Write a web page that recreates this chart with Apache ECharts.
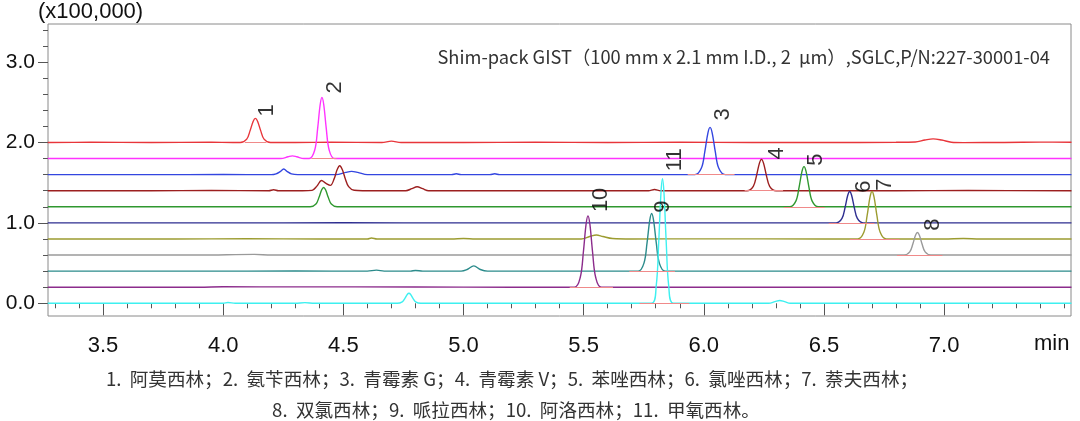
<!DOCTYPE html>
<html>
<head>
<meta charset="utf-8">
<title>Penicillins chromatogram</title>
<script src="https://cdn.jsdelivr.net/npm/echarts@6/dist/echarts.min.js"></script>
<style>
  html, body { margin: 0; padding: 0; background: #fff; }
  #chart { width: 1080px; height: 421px; }
</style>
</head>
<body>
<div id="chart"></div>
<script>
// traces: [time (min), signal (x100,000, offset included)]
const amoxicillin = [[3.27,2.0],[3.45,2.002],[3.7,2.0],[3.95,2.003],[4.04,2.0],[4.071,2.0],[4.098,2.042],[4.112,2.147],[4.125,2.264],[4.134,2.30],[4.143,2.264],[4.156,2.147],[4.170,2.042],[4.197,2.0],[4.3,2.0],[4.45,2.002],[4.66,2.0],[4.70,2.016],[4.74,2.0],[5.0,2.0],[5.3,2.003],[5.6,2.0],[5.9,2.002],[6.2,2.0],[6.5,2.0],[6.8,2.002],[6.88,2.006],[6.92,2.03],[6.954,2.045],[6.99,2.03],[7.03,2.003],[7.08,1.998],[7.25,2.0],[7.4,2.004],[7.53,2.002]];
const ampicillin = [[3.27,1.8],[3.6,1.8],[3.9,1.802],[4.1,1.8],[4.24,1.8],[4.27,1.822],[4.288,1.833],[4.306,1.822],[4.336,1.8],[4.358,1.8],[4.381,1.906],[4.393,2.172],[4.4035,2.469],[4.411,2.56],[4.4185,2.469],[4.429,2.172],[4.441,1.906],[4.4635,1.8],[4.6,1.8],[5.0,1.8],[5.5,1.801],[6.0,1.8],[6.5,1.8],[7.0,1.8],[7.53,1.8]];
const penicillinG = [[3.27,1.6],[3.7,1.6],[4.0,1.601],[4.2,1.6],[4.22,1.61],[4.237,1.638],[4.252,1.67],[4.267,1.638],[4.284,1.61],[4.31,1.6],[4.47,1.6],[4.51,1.628],[4.534,1.64],[4.56,1.628],[4.60,1.6],[4.8,1.6],[4.95,1.6],[4.97,1.61],[4.99,1.6],[5.11,1.6],[5.13,1.61],[5.15,1.6],[5.5,1.6],[5.9,1.6],[5.963,1.6],[5.99,1.682],[6.0044,1.888],[6.017,2.117],[6.026,2.187],[6.035,2.117],[6.0476,1.888],[6.062,1.682],[6.089,1.6],[6.4,1.6],[7.0,1.6],[7.53,1.6]];
const penicillinV = [[3.27,1.4],[3.7,1.4],[3.95,1.402],[4.19,1.4],[4.21,1.412],[4.23,1.4],[4.33,1.4],[4.37,1.404],[4.39,1.457],[4.409,1.527],[4.428,1.49],[4.446,1.466],[4.462,1.55],[4.474,1.66],[4.485,1.71],[4.496,1.66],[4.508,1.55],[4.522,1.45],[4.545,1.405],[4.58,1.4],[4.76,1.4],[4.785,1.425],[4.807,1.45],[4.83,1.425],[4.855,1.4],[5.3,1.4],[5.77,1.4],[5.795,1.415],[5.82,1.4],[6.1,1.4],[6.18,1.4],[6.206,1.455],[6.2196,1.591],[6.2315,1.743],[6.24,1.79],[6.2485,1.743],[6.2604,1.591],[6.274,1.455],[6.30,1.4],[6.8,1.4],[7.1,1.402],[7.53,1.4]];
const oxacillin = [[3.27,1.2],[3.8,1.2],[4.2,1.201],[4.362,1.2],[4.386,1.234],[4.3988,1.318],[4.41,1.411],[4.418,1.44],[4.426,1.411],[4.4372,1.318],[4.45,1.234],[4.474,1.2],[5.0,1.2],[5.6,1.2],[6.3,1.2],[6.3575,1.2],[6.383,1.27],[6.3966,1.445],[6.4085,1.64],[6.417,1.70],[6.4255,1.64],[6.4374,1.445],[6.451,1.27],[6.4765,1.2],[7.0,1.2],[7.53,1.2]];
const cloxacillin = [[3.27,1.0],[4.0,1.0],[4.5,1.001],[5.0,1.0],[5.5,1.0],[6.0,1.0],[6.5,1.0],[6.551,1.0],[6.575,1.055],[6.5878,1.191],[6.599,1.343],[6.607,1.39],[6.615,1.343],[6.6262,1.191],[6.639,1.055],[6.663,1.0],[7.0,1.0],[7.53,1.0]];
const nafcillin = [[3.27,0.8],[3.8,0.8],[4.1,0.803],[4.4,0.8],[4.6,0.8],[4.617,0.812],[4.64,0.8],[4.95,0.8],[5.0,0.806],[5.05,0.8],[5.49,0.8],[5.525,0.83],[5.553,0.85],[5.58,0.83],[5.62,0.805],[5.7,0.8],[6.0,0.801],[6.5,0.8],[6.6405,0.8],[6.666,0.883],[6.6796,1.089],[6.6915,1.319],[6.70,1.39],[6.7085,1.319],[6.7204,1.089],[6.734,0.883],[6.7595,0.8],[7.0,0.8],[7.08,0.805],[7.15,0.8],[7.53,0.8]];
const dicloxacillin = [[3.27,0.6],[3.9,0.6],[4.13,0.608],[4.2,0.6],[5.0,0.6],[5.8,0.6],[6.833,0.6],[6.857,0.639],[6.8698,0.737],[6.881,0.846],[6.889,0.88],[6.897,0.846],[6.9082,0.737],[6.921,0.639],[6.945,0.6],[7.53,0.6]];
const piperacillin = [[3.27,0.4],[3.9,0.4],[4.3,0.401],[4.6,0.4],[4.638,0.412],[4.67,0.4],[4.78,0.4],[4.80,0.408],[4.83,0.4],[4.99,0.4],[5.015,0.42],[5.043,0.465],[5.07,0.42],[5.10,0.4],[5.5,0.4],[5.727,0.4],[5.751,0.5],[5.7638,0.751],[5.775,1.03],[5.783,1.116],[5.791,1.03],[5.8022,0.751],[5.815,0.5],[5.839,0.4],[6.3,0.4],[7.0,0.4],[7.53,0.4]];
const azlocillin = [[3.27,0.2],[3.9,0.2],[4.0,0.205],[4.3,0.204],[4.8,0.203],[5.2,0.2],[5.462,0.2],[5.486,0.324],[5.4988,0.635],[5.51,0.981],[5.518,1.087],[5.526,0.981],[5.5372,0.635],[5.55,0.324],[5.574,0.2],[6.0,0.2],[7.0,0.2],[7.53,0.2]];
const methicillin = [[3.27,0.0],[3.6,0.0],[4.0,0.0],[4.02,0.01],[4.05,0.0],[4.3,0.0],[4.34,0.008],[4.38,0.0],[4.724,0.0],[4.745,0.0175],[4.7562,0.061],[4.766,0.11],[4.773,0.125],[4.78,0.11],[4.7898,0.061],[4.801,0.0175],[4.822,0.0],[5.3,0.0],[5.7825,0.0],[5.802,0.217],[5.8124,0.759],[5.8215,1.362],[5.828,1.548],[5.8345,1.362],[5.8436,0.759],[5.854,0.217],[5.8735,0.0],[6.27,0.0],[6.296,0.02],[6.316,0.035],[6.336,0.02],[6.36,0.0],[7.0,0.0],[7.53,0.0]];

// integration baselines under each numbered peak: [start, end, level]
const intBaselines = [[4.09,4.18,2.0],[4.367,4.471,1.8],[5.933,6.128,1.6],[6.17,6.33,1.4],[6.333,6.503,1.2],[6.52,6.71,1.0],[6.607,6.815,0.8],[6.804,6.993,0.6],[5.69,5.88,0.4],[5.442,5.622,0.2],[5.733,5.94,0.0]];

// peak numbers
const peakNames = ['1','2','3','4','5','6','7','8','9','10','11'];
const peakTimes = [4.134, 4.411, 6.026, 6.24, 6.417, 6.607, 6.70, 6.889, 5.783, 5.518, 5.828];
const peakTops = [2.30, 2.56, 2.187, 1.79, 1.70, 1.39, 1.39, 0.88, 1.116, 1.087, 1.548];

// tick values
const xMajorTicks = [3.5, 4.0, 4.5, 5.0, 5.5, 6.0, 6.5, 7.0];
const xMinorTicks = [3.3,3.4,3.6,3.7,3.8,3.9,4.1,4.2,4.3,4.4,4.6,4.7,4.8,4.9,5.1,5.2,5.3,5.4,5.6,5.7,5.8,5.9,6.1,6.2,6.3,6.4,6.6,6.7,6.8,6.9,7.1,7.2,7.3,7.4,7.5];
const yMajorTicks = [0.0, 1.0, 2.0, 3.0];
const yMinorTicks = [0.2,0.4,0.6,0.8,1.2,1.4,1.6,1.8,2.2,2.4,2.6,2.8,3.2,3.4];

const legendLine1 = '1.  阿莫西林；2.  氨苄西林；3.  青霉素 G；4.  青霉素 V；5.  苯唑西林；6.  氯唑西林；7.  萘夫西林；';
const legendLine2 = '8.  双氯西林；9.  哌拉西林；10.  阿洛西林；11.  甲氧西林。';
const columnText = 'Shim-pack GIST（100 mm x 2.1 mm I.D., 2  µm）,SGLC,P/N:227-30001-04';

// styling
const traces = [amoxicillin, ampicillin, penicillinG, penicillinV, oxacillin, cloxacillin, nafcillin, dicloxacillin, piperacillin, azlocillin, methicillin];
const traceColors = ['#e8353a', '#ff33ff', '#3346e0', '#9c1f1f', '#2f982f', '#2e2e90', '#9c9c30', '#9a9a9a', '#2b8b8b', '#8c2c8c', '#3ef0f0'];
// label centre relative to the apex, screen px [right, down]
const labelOffsets = [[12,-8],[13,-10],[13,-13],[15,-6],[12,-7],[14,-5],[13,-7],[15,-8],[11,-7],[13,-16],[12,-19]];

const X_MIN = 3.271, X_MAX = 7.528;
const Y_MIN = -0.158, Y_MAX = 3.473;
const latin = '"Liberation Sans", Arial, sans-serif';
const cjk = '"Noto Sans CJK SC", sans-serif';

const chart = echarts.init(document.getElementById('chart'));

const lineSeries = traces.map((data, i) => ({
  type: 'line',
  data: data,
  showSymbol: false,
  smooth: 0.35,
  lineStyle: { width: 1.4, color: traceColors[i] },
  z: 2,
  markLine: {
    silent: true,
    symbol: 'none',
    label: { show: false },
    lineStyle: { color: '#f08a8a', width: 1, type: 'solid' },
    data: [[
      { coord: [intBaselines[i][0], intBaselines[i][2]] },
      { coord: [intBaselines[i][1], intBaselines[i][2]] }
    ]]
  }
}));

// the label offset is applied in the rotated frame, so swap it round
const labelSeries = {
  type: 'scatter',
  symbolSize: 1,
  itemStyle: { color: 'rgba(0,0,0,0)' },
  z: 5,
  data: peakTimes.map((t, i) => ({
    name: peakNames[i],
    value: [t, peakTops[i]],
    label: { offset: [-labelOffsets[i][1], labelOffsets[i][0]] }
  })),
  label: {
    show: true,
    position: 'inside',
    rotate: 90,
    formatter: (p) => p.name,
    fontFamily: latin,
    fontSize: 22,
    color: '#000'
  }
};

const option = {
  animation: false,
  backgroundColor: '#fff',
  grid: {
    left: 48, right: 9, top: 24, bottom: 105,
    show: true, borderColor: '#8a8a8a', borderWidth: 1
  },
  xAxis: [
    {
      type: 'value', min: X_MIN, max: X_MAX, offset: 2,
      axisLine: { show: false },
      splitLine: { show: false },
      axisTick: { show: true, length: 12, customValues: xMajorTicks, lineStyle: { color: '#555' } },
      axisLabel: {
        customValues: xMajorTicks, margin: 17,
        formatter: (v) => v.toFixed(1),
        fontFamily: latin, fontSize: 22, color: '#111'
      }
    },
    {
      type: 'value', min: X_MIN, max: X_MAX, offset: 2, position: 'bottom',
      axisLine: { show: false },
      splitLine: { show: false },
      axisTick: { show: true, length: 5, customValues: xMinorTicks, lineStyle: { color: '#555' } },
      axisLabel: { show: false }
    }
  ],
  yAxis: [
    {
      type: 'value', min: Y_MIN, max: Y_MAX,
      axisLine: { show: false },
      splitLine: { show: false },
      axisTick: { show: true, length: 10, customValues: yMajorTicks, lineStyle: { color: '#555' } },
      axisLabel: {
        customValues: yMajorTicks, margin: 13,
        formatter: (v) => v.toFixed(1),
        fontFamily: latin, fontSize: 21, color: '#111'
      }
    },
    {
      type: 'value', min: Y_MIN, max: Y_MAX, position: 'left',
      axisLine: { show: false },
      splitLine: { show: false },
      axisTick: { show: true, length: 5, customValues: yMinorTicks, lineStyle: { color: '#555' } },
      axisLabel: { show: false }
    }
  ],
  graphic: [
    { type: 'text', left: 38, top: 1, style: { text: '(x100,000)', font: '22px ' + latin, fill: '#111' } },
    { type: 'text', x: 1050, y: 57, style: { text: columnText, font: '18.3px ' + cjk, fill: '#333', textAlign: 'right', textVerticalAlign: 'middle' } },
    { type: 'text', left: 1034, top: 333, style: { text: 'min', font: '22px ' + latin, fill: '#111' } },
    { type: 'text', x: 512, y: 379, style: { text: legendLine1, font: '18.6px ' + cjk, fill: '#333', textAlign: 'center', textVerticalAlign: 'middle' } },
    { type: 'text', x: 516, y: 410, style: { text: legendLine2, font: '18.6px ' + cjk, fill: '#333', textAlign: 'center', textVerticalAlign: 'middle' } }
  ],
  series: lineSeries.concat([labelSeries])
};

chart.setOption(option);
window.addEventListener('resize', () => chart.resize());
</script>
</body>
</html>
